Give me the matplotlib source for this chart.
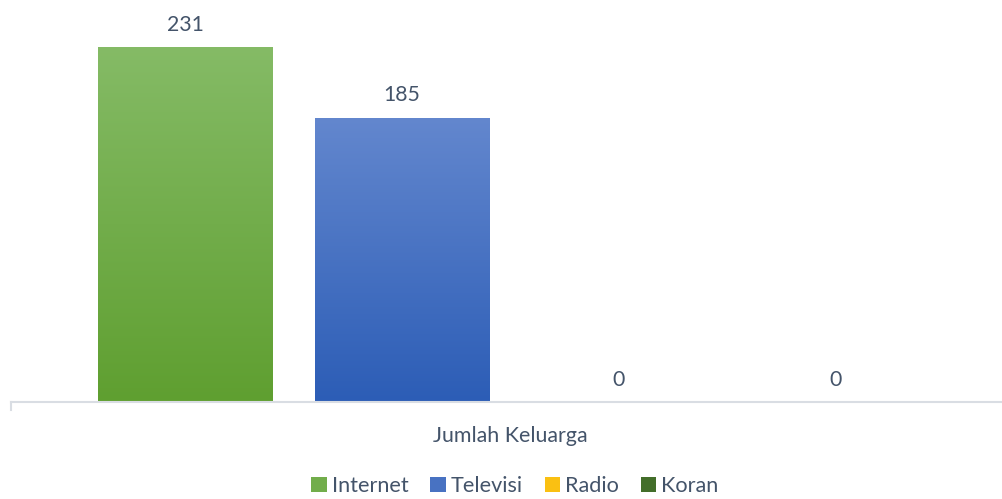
import numpy as np
import matplotlib.pyplot as plt
from matplotlib.colors import LinearSegmentedColormap, to_rgb
from matplotlib.patches import Patch

categories = ['Internet', 'Televisi', 'Radio', 'Koran']
values = [231, 185, 0, 0]
group_label = 'Jumlah Keluarga'

top_colors = ['#85bb66', '#6387ce', '#ffc824', '#4f7a37']
bottom_colors = ['#5f9f30', '#2c5db6', '#f5b800', '#37621d']

txt = '#44546a'
plt.rcParams['font.family'] = ['Lato', 'DejaVu Sans']

fig = plt.figure(figsize=(10.02, 4.99), dpi=100)
ax = fig.add_axes([11 / 1002, 97 / 499, 991 / 1002, 402 / 499])

x = np.arange(len(categories))
width = 0.808
bars = ax.bar(x, values, width=width, color='none')

# vertical gradient fill, clipped to each bar
grad = np.linspace(0, 1, 256).reshape(-1, 1)
for b, c0, c1 in zip(bars, top_colors, bottom_colors):
    h = b.get_height()
    if h <= 0:
        continue
    cmap = LinearSegmentedColormap.from_list('g', [c1, c0])
    im = ax.imshow(grad, cmap=cmap, aspect='auto', origin='lower',
                   extent=[b.get_x(), b.get_x() + b.get_width(), 0, h], zorder=2)
    im.set_clip_path(b)

for xi, v in zip(x, values):
    ax.text(xi, v + 8, str(v), ha='center', va='bottom', fontsize=15.3, color=txt)

ax.set_xlim(-0.806, 3.77)
ax.set_ylim(0, 261.5)
ax.set_xticks([])
ax.set_yticks([])
for s in ['top', 'right', 'left']:
    ax.spines[s].set_visible(False)
ax.spines['bottom'].set_color('#d9dde3')
ax.spines['bottom'].set_linewidth(1.5)
ax.plot([-0.806, -0.806], [0, -5], color='#d9dde3', lw=1.5, clip_on=False)

fig.text(510 / 1002, 1 - 436 / 499, group_label, ha='center', va='center',
         fontsize=15.4, color=txt)

handles = [Patch(facecolor=(np.array(to_rgb(a)) + np.array(to_rgb(b))) / 2, label=n)
           for a, b, n in zip(top_colors, bottom_colors, categories)]
fig.legend(handles=handles, loc='center', bbox_to_anchor=(515 / 1002, 1 - 486 / 499),
           ncol=4, frameon=False, fontsize=15.6, labelcolor=txt,
           handlelength=0.7, handleheight=0.7, handletextpad=0.25, columnspacing=1.0)

fig.savefig('out.png', dpi=100)
